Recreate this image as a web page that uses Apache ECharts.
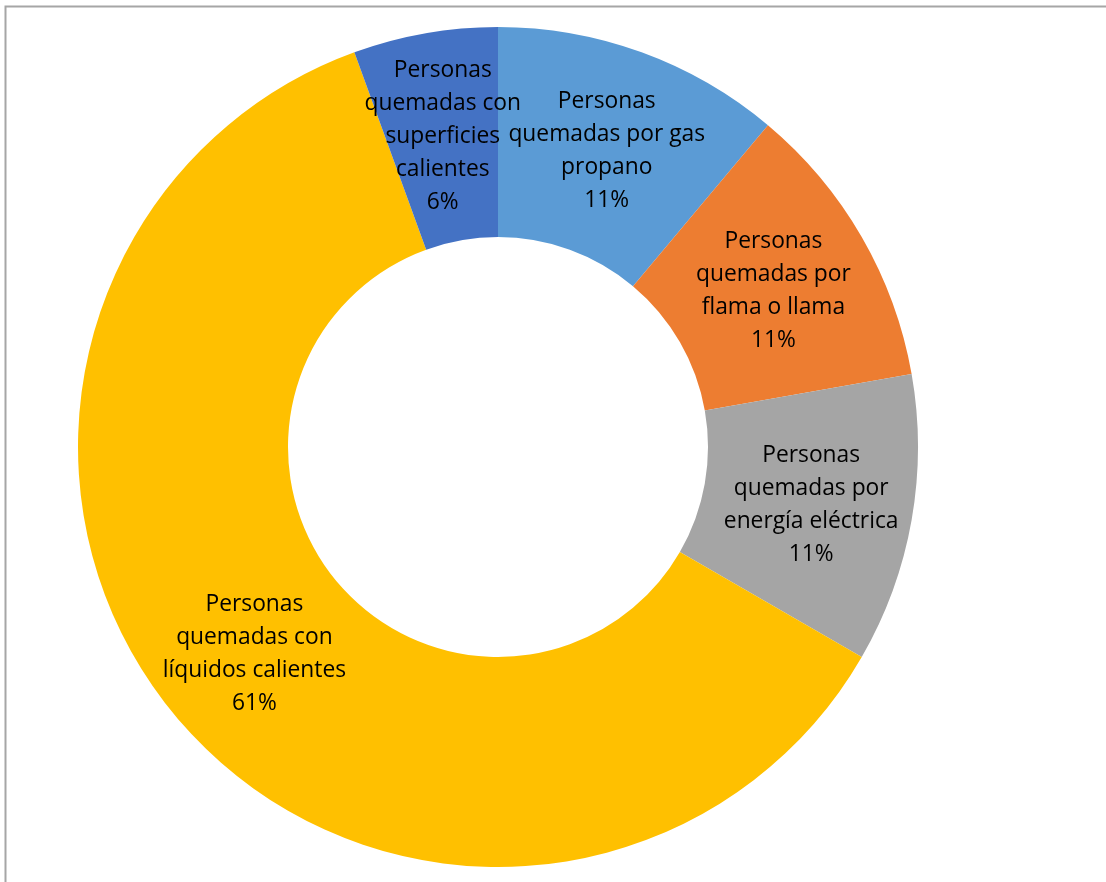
<!DOCTYPE html>
<html>
<head>
<meta charset="utf-8">
<script src="https://cdn.jsdelivr.net/npm/echarts@6/dist/echarts.min.js"></script>
<style>
  html, body { margin: 0; padding: 0; background: #fff; }
  #chart { width: 1106px; height: 882px; }
</style>
</head>
<body>
<div id="chart"></div>
<script>
// slices, clockwise from 12 o'clock
const categories = [
  'Personas\nquemadas por gas\npropano',
  'Personas\nquemadas por\nflama o llama',
  'Personas\nquemadas por\nenergía eléctrica',
  'Personas\nquemadas con\nlíquidos calientes',
  'Personas\nquemadas con\nsuperficies\ncalientes'
]
const values = [2, 2, 2, 11, 1]
const colors = ['#5B9BD5', '#ED7D31', '#A5A5A5', '#FFC000', '#4472C4']

const chart = echarts.init(document.getElementById('chart'))

chart.setOption({
  animation: false,
  color: colors,
  graphic: [{
    type: 'rect',
    shape: { x: 5.5, y: 6.5, width: 1120, height: 900 },
    style: { fill: 'none', stroke: '#a6a6a6', lineWidth: 2 },
    silent: true
  }],
  series: [{
    type: 'pie',
    center: [498, 447],
    radius: [210, 420],
    startAngle: 90,
    clockwise: true,
    percentPrecision: 0,
    avoidLabelOverlap: false,
    labelLayout: { hideOverlap: false },
    emphasis: { disabled: true },
    itemStyle: { borderWidth: 0 },
    label: {
      show: true,
      position: 'inside',
      formatter: '{b}\n{d}%',
      color: '#000',
      fontFamily: 'Open Sans',
      fontSize: 22.8,
      lineHeight: 33,
      align: 'center',
      offset: [0, 3]
    },
    labelLine: { show: false },
    data: categories.map((name, i) => ({ name, value: values[i] }))
  }]
})
</script>
</body>
</html>
